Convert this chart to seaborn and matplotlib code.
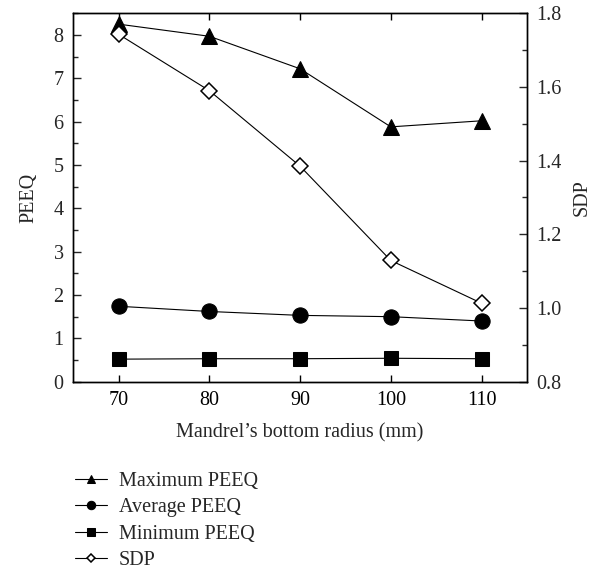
import matplotlib
matplotlib.use("Agg")
import matplotlib.pyplot as plt
import seaborn as sns
import pandas as pd
from matplotlib.ticker import MultipleLocator

radius = [70, 80, 90, 100, 110]
max_peeq = [8.25, 7.97, 7.22, 5.88, 6.02]
avg_peeq = [1.74, 1.62, 1.53, 1.50, 1.40]
min_peeq = [0.52, 0.53, 0.53, 0.54, 0.53]
sdp = [1.743, 1.590, 1.385, 1.129, 1.013]

sns.set_theme(style="ticks")
plt.rcParams['font.family'] = ['Liberation Serif', 'DejaVu Serif']
plt.rcParams['font.serif'] = ['Liberation Serif', 'DejaVu Serif']

fig = plt.figure(figsize=(5.96, 5.69), dpi=100)
ax = fig.add_axes([0.123, 0.3292, 0.761, 0.6474])
ax2 = ax.twinx()

fs = 14.5
lw = 0.8
sns.lineplot(x=radius, y=max_peeq, ax=ax, color='black', marker='^', markersize=11,
             markeredgecolor='black', linewidth=lw, label='Maximum PEEQ', legend=False)
sns.lineplot(x=radius, y=avg_peeq, ax=ax, color='black', marker='o', markersize=11,
             markeredgecolor='black', linewidth=lw, label='Average PEEQ', legend=False)
sns.lineplot(x=radius, y=min_peeq, ax=ax, color='black', marker='s', markersize=9.5,
             markeredgecolor='black', linewidth=lw, label='Minimum PEEQ', legend=False)
sns.lineplot(x=radius, y=sdp, ax=ax2, color='black', marker='D', markersize=8,
             markerfacecolor='white', markeredgecolor='black', markeredgewidth=1.1,
             linewidth=lw, label='SDP', legend=False)

ax.set_xlim(65, 115)
ax.set_ylim(0, 8.5)
ax2.set_ylim(0.8, 1.8)
ax.set_xticks([70, 80, 90, 100, 110])
ax.yaxis.set_major_locator(MultipleLocator(1))
ax.yaxis.set_minor_locator(MultipleLocator(0.5))
ax2.yaxis.set_major_locator(MultipleLocator(0.2))
ax2.yaxis.set_minor_locator(MultipleLocator(0.1))
ax2.yaxis.set_major_formatter(matplotlib.ticker.FormatStrFormatter('%.1f'))

ax.tick_params(axis='x', which='major', direction='in', top=True, length=5, width=1,
               labelsize=fs, pad=7, colors='black')
ax.tick_params(axis='y', which='major', direction='in', length=6, width=1, labelsize=fs, pad=7)
ax.tick_params(axis='y', which='minor', direction='in', length=3.5, width=1)
ax2.tick_params(axis='y', which='major', direction='in', length=6, width=1, labelsize=fs, pad=7)
ax2.tick_params(axis='y', which='minor', direction='in', length=3.5, width=1)

for a in (ax, ax2):
    for s in a.spines.values():
        s.set_visible(True)
        s.set_linewidth(1.0)
        s.set_color('black')

ax.set_xlabel("Mandrel\u2019s bottom radius (mm)", fontsize=fs, labelpad=9)
ax.set_ylabel("PEEQ", fontsize=fs, labelpad=11)
ax2.set_ylabel("SDP", fontsize=fs, labelpad=8)

h1, l1 = ax.get_legend_handles_labels()
h2, l2 = ax2.get_legend_handles_labels()
leg = fig.legend(h1 + h2, l1 + l2, loc='upper left', bbox_to_anchor=(0.112, 0.185),
                 frameon=False, fontsize=fs, handlelength=1.6, handletextpad=0.6,
                 labelspacing=0.36, markerscale=0.55, borderaxespad=0)

fig.savefig("out.png", dpi=100)
